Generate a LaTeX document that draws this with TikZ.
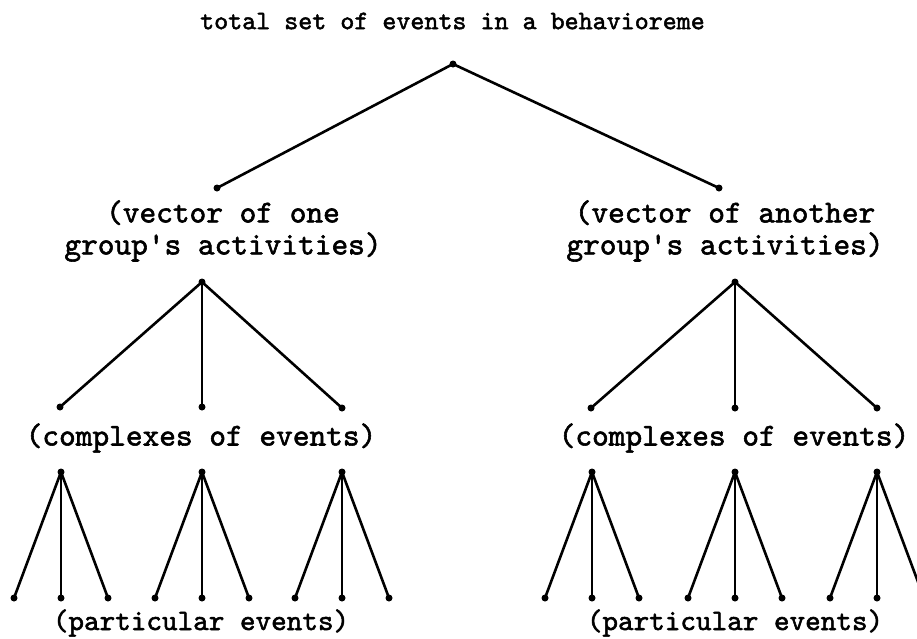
\documentclass[tikz,border=0pt]{standalone}
\usepackage{fontspec}
\newfontfamily\typewriter[FakeBold=1.8]{lmmono10-regular.otf}
\begin{document}
\begin{tikzpicture}[x=1pt,y=-1pt,
  dot/.style={circle,fill=black,inner sep=0pt,minimum size=7pt},
  edge/.style={line width=2.6pt,line cap=round},
  lbl/.style={inner sep=0pt,font=\typewriter\fontsize{29.7}{34}\selectfont},
  big/.style={font=\typewriter\fontsize{31.8}{32}\selectfont},
  small/.style={font=\typewriter\fontsize{26.7}{30}\selectfont},
]
\useasboundingbox (0,0) rectangle (917,638);
\clip (0,0) rectangle (917,638);

% labels
\node[lbl,small] (title) at (452.5,21) {total set of events in a behavioreme};
\node[lbl,big,align=center] (vl) at (223,231) {(vector of one\\group's activities)};
\node[lbl,big,align=center] (vr) at (725,231) {(vector of another\\group's activities)};
\node[lbl,big] (cl) at (201,438) {(complexes of events)};
\node[lbl,big] (cr) at (734,438) {(complexes of events)};
\node[lbl] (pl) at (201,623) {(particular events)};
\node[lbl] (pr) at (735,623) {(particular events)};

% level 0 and 1
\node[dot] (r) at (453,64) {};
\node[dot] (a) at (217,188) {};
\node[dot] (b) at (719,188) {};

% level 2 roots
\node[dot] (a0) at (202,282) {};
\node[dot] (b0) at (735,282) {};
% level 2 children
\node[dot] (a1) at (60,407) {};
\node[dot] (a2) at (202,407) {};
\node[dot] (a3) at (342,408) {};
\node[dot] (b1) at (591,408) {};
\node[dot] (b2) at (735,408) {};
\node[dot] (b3) at (877,408) {};

% level 3 roots
\node[dot] (p1) at (61,472) {};
\node[dot] (p2) at (202,472) {};
\node[dot] (p3) at (342,472) {};
\node[dot] (q1) at (592,472) {};
\node[dot] (q2) at (735,472) {};
\node[dot] (q3) at (877,472) {};

% leaves
\foreach \n/\x in {p1/61,p2/202,p3/342,q1/592,q2/735,q3/877}{
  \node[dot] (\n l) at (\x-47,598) {};
  \node[dot] (\n m) at (\x,598) {};
  \node[dot] (\n r) at (\x+47,598) {};
}

% connectors
\draw[edge] (r.center) -- (a.center);
\draw[edge] (r.center) -- (b.center);
\foreach \t/\c in {a0/a1,a0/a2,a0/a3,b0/b1,b0/b2,b0/b3}
  \draw[edge] (\t.center) -- (\c.center);
\foreach \n in {p1,p2,p3,q1,q2,q3}{
  \draw[edge] (\n.center) -- (\n l.center);
  \draw[edge] (\n.center) -- (\n m.center);
  \draw[edge] (\n.center) -- (\n r.center);
}
\end{tikzpicture}
\end{document}
